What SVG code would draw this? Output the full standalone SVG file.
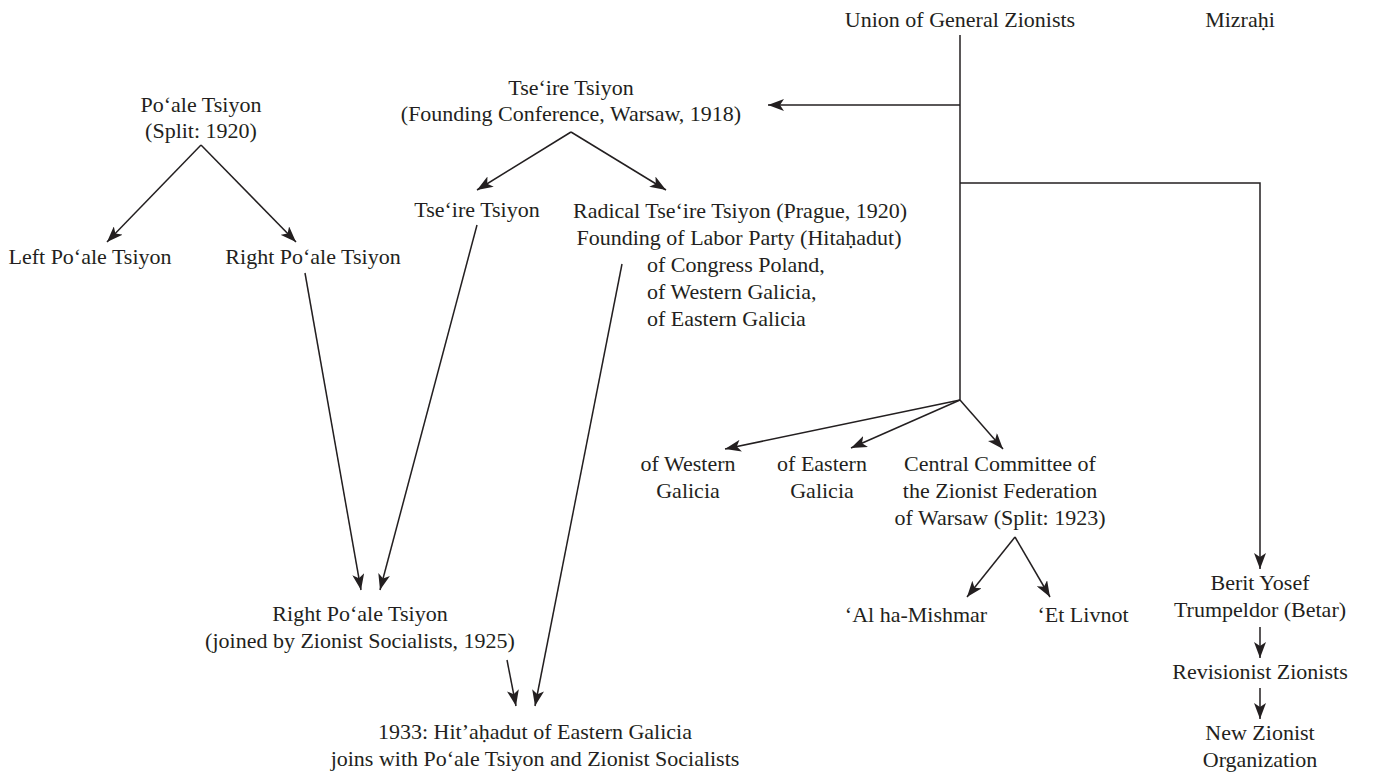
<svg xmlns="http://www.w3.org/2000/svg" width="1383" height="774" viewBox="0 0 1383 774">
<style>
text{font-family:"Liberation Serif","Times New Roman",serif;font-size:22px;fill:#231f20;text-anchor:middle}
.l{text-anchor:start}
.c{fill:none;stroke:#231f20;stroke-width:1.5}
</style>
<defs>
<marker id="a" viewBox="0 0 16 12" refX="16" refY="6" markerWidth="16" markerHeight="12" markerUnits="userSpaceOnUse" orient="auto">
<path d="M0,0 L16,6 L0,12 L4,6 Z" fill="#231f20"/>
</marker>
</defs>
<rect width="1383" height="774" fill="#fff"/>
<g id="connectors">
<path class="c" d="M960,35 V400"/>
<path class="c" d="M960,105 H768" marker-end="url(#a)"/>
<path class="c" d="M960,183 H1260 V569" marker-end="url(#a)"/>
<path class="c" d="M960,400 L725,449" marker-end="url(#a)"/>
<path class="c" d="M960,400 L851,448" marker-end="url(#a)"/>
<path class="c" d="M960,400 L1003,449" marker-end="url(#a)"/>
<path class="c" d="M201,145 L107,242" marker-end="url(#a)"/>
<path class="c" d="M201,145 L296,242" marker-end="url(#a)"/>
<path class="c" d="M571,132 L477,190" marker-end="url(#a)"/>
<path class="c" d="M571,132 L666,190" marker-end="url(#a)"/>
<path class="c" d="M305,273 L361,590" marker-end="url(#a)"/>
<path class="c" d="M477,225 L380,590" marker-end="url(#a)"/>
<path class="c" d="M622,264 L535,706" marker-end="url(#a)"/>
<path class="c" d="M507,660 L516,706" marker-end="url(#a)"/>
<path class="c" d="M1015,537 L967,597" marker-end="url(#a)"/>
<path class="c" d="M1015,537 L1050,597" marker-end="url(#a)"/>
<path class="c" d="M1260,627 V658" marker-end="url(#a)"/>
<path class="c" d="M1260,688 V719" marker-end="url(#a)"/>
</g>
<g id="union"><text x="960" y="27">Union of General Zionists</text></g>
<g id="mizrahi"><text x="1240" y="27">Mizraḥi</text></g>
<g id="poale"><text x="201" y="112">Po‘ale Tsiyon</text><text x="201" y="138">(Split: 1920)</text></g>
<g id="left-poale"><text x="90" y="264">Left Po‘ale Tsiyon</text></g>
<g id="right-poale"><text x="313" y="264">Right Po‘ale Tsiyon</text></g>
<g id="tseire"><text x="571" y="95">Tse‘ire Tsiyon</text><text x="571" y="121">(Founding Conference, Warsaw, 1918)</text></g>
<g id="tseire2"><text x="477" y="217">Tse‘ire Tsiyon</text></g>
<g id="radical"><text x="740" y="218">Radical Tse‘ire Tsiyon (Prague, 1920)</text><text x="739" y="245">Founding of Labor Party (Hitaḥadut)</text><text class="l" x="647" y="272">of Congress Poland,</text><text class="l" x="647" y="299">of Western Galicia,</text><text class="l" x="647" y="326">of Eastern Galicia</text></g>
<g id="right-poale2"><text x="360" y="621">Right Po‘ale Tsiyon</text><text x="360" y="648">(joined by Zionist Socialists, 1925)</text></g>
<g id="hitahadut"><text x="535" y="739">1933: Hit’aḥadut of Eastern Galicia</text><text x="535" y="766">joins with Po‘ale Tsiyon and Zionist Socialists</text></g>
<g id="western"><text x="688" y="471">of Western</text><text x="688" y="498">Galicia</text></g>
<g id="eastern"><text x="822" y="471">of Eastern</text><text x="822" y="498">Galicia</text></g>
<g id="central"><text x="1000" y="471">Central Committee of</text><text x="1000" y="498">the Zionist Federation</text><text x="1000" y="525">of Warsaw (Split: 1923)</text></g>
<g id="mishmar"><text x="916" y="622">‘Al ha-Mishmar</text></g>
<g id="livnot"><text x="1083" y="622">‘Et Livnot</text></g>
<g id="betar"><text x="1260" y="590">Berit Yosef</text><text x="1260" y="617">Trumpeldor (Betar)</text></g>
<g id="revisionist"><text x="1260" y="679">Revisionist Zionists</text></g>
<g id="nzo"><text x="1260" y="740">New Zionist</text><text x="1260" y="767">Organization</text></g>
</svg>
